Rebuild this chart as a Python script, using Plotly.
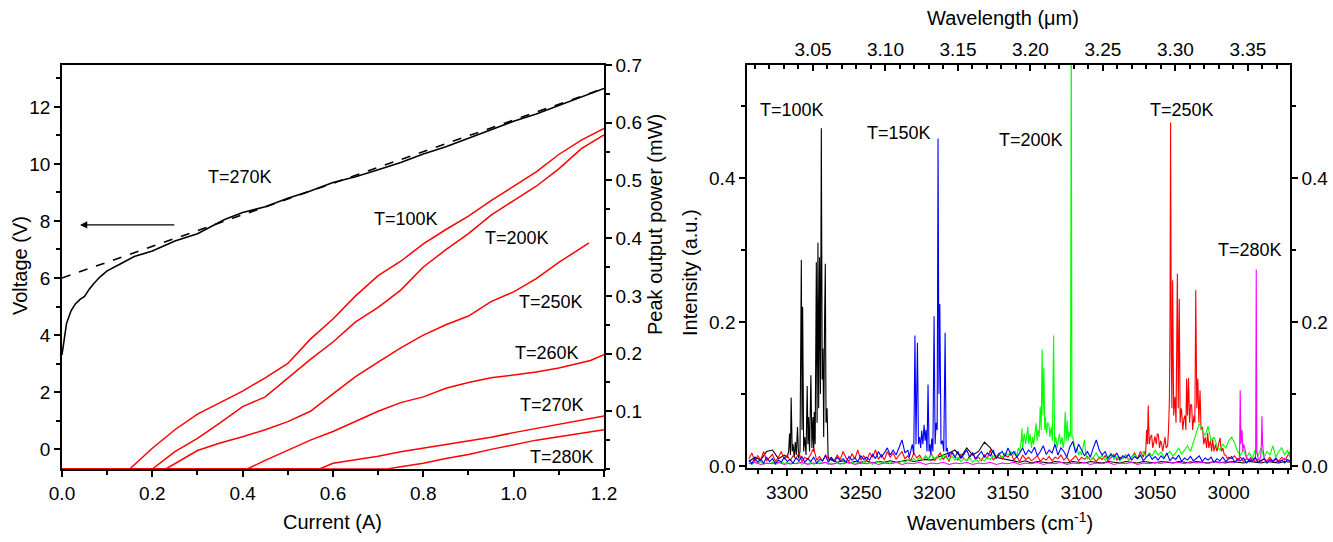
import plotly.graph_objects as go

# === Left panel: V-I and L-I data ===
current_v = [0.0, 0.005, 0.01, 0.02, 0.03, 0.04, 0.05, 0.06, 0.07, 0.085, 0.1, 0.13, 0.16, 0.2,
             0.25, 0.3, 0.33, 0.36, 0.4, 0.45, 0.5, 0.55, 0.6, 0.65, 0.7, 0.75, 0.8, 0.85, 0.9,
             0.95, 1.0, 1.05, 1.1, 1.15, 1.2]
voltage = [3.3, 3.8, 4.4, 4.85, 5.1, 5.25, 5.35, 5.6, 5.8, 6.05, 6.25, 6.5, 6.75, 6.95,
           7.3, 7.55, 7.8, 8.05, 8.3, 8.5, 8.8, 9.05, 9.35, 9.55, 9.8, 10.05, 10.35, 10.6, 10.9,
           11.2, 11.5, 11.75, 12.05, 12.35, 12.65]
fit_current = [0.0, 1.2]
fit_voltage = [6.0, 12.65]

i_100 = [0, 0.15, 0.2, 0.25, 0.3, 0.35, 0.4, 0.45, 0.5, 0.55, 0.6, 0.65, 0.7, 0.75, 0.8, 0.85,
         0.9, 0.95, 1.0, 1.05, 1.1, 1.15, 1.2]
p_100 = [0, 0, 0.036, 0.068, 0.095, 0.115, 0.135, 0.158, 0.183, 0.225, 0.26, 0.30, 0.335, 0.36,
         0.39, 0.415, 0.438, 0.465, 0.49, 0.515, 0.545, 0.57, 0.59]
i_200 = [0, 0.2, 0.25, 0.3, 0.35, 0.4, 0.45, 0.5, 0.55, 0.6, 0.65, 0.7, 0.75, 0.8, 0.85, 0.9,
         0.95, 1.0, 1.05, 1.1, 1.15, 1.2]
p_200 = [0, 0, 0.03, 0.053, 0.08, 0.108, 0.125, 0.158, 0.19, 0.22, 0.255, 0.28, 0.31, 0.35,
         0.38, 0.408, 0.44, 0.465, 0.49, 0.52, 0.555, 0.579]
i_250 = [0, 0.23, 0.3, 0.35, 0.4, 0.45, 0.5, 0.55, 0.6, 0.65, 0.7, 0.75, 0.8, 0.85, 0.9, 0.95,
         1.0, 1.05, 1.1, 1.167]
p_250 = [0, 0, 0.032, 0.045, 0.056, 0.068, 0.082, 0.1, 0.13, 0.16, 0.185, 0.21, 0.232, 0.25,
         0.265, 0.29, 0.307, 0.33, 0.358, 0.392]
i_260 = [0, 0.41, 0.45, 0.5, 0.55, 0.6, 0.65, 0.7, 0.75, 0.8, 0.85, 0.9, 0.95, 1.0, 1.05, 1.1,
         1.15, 1.17, 1.2]
p_260 = [0, 0, 0.015, 0.032, 0.05, 0.065, 0.082, 0.1, 0.115, 0.125, 0.14, 0.15, 0.158, 0.163,
         0.168, 0.175, 0.185, 0.188, 0.198]
i_270 = [0, 0.57, 0.6, 0.65, 0.7, 0.75, 0.8, 0.85, 0.9, 0.95, 1.0, 1.05, 1.1, 1.15, 1.2]
p_270 = [0, 0, 0.01, 0.016, 0.022, 0.03, 0.036, 0.042, 0.048, 0.055, 0.063, 0.07, 0.077, 0.085,
         0.092]
i_280 = [0, 0.72, 0.75, 0.8, 0.85, 0.9, 0.95, 1.0, 1.05, 1.1, 1.15, 1.2]
p_280 = [0, 0, 0.004, 0.01, 0.018, 0.025, 0.034, 0.042, 0.05, 0.056, 0.062, 0.068]

# === Right panel: spectra ===
# wavenumber sampling grids for the noise floor (cm-1)
wn_grid4 = list(range(3326, 2957, -4))
wn_grid2 = list(range(3326, 2957, -2))

# noise floors on wn_grid4
noise_100 = [0.006, 0.012, 0.008, 0.020, 0.022, 0.010, 0.015, 0.010, 0.012, 0.010,
             0.010, 0.012, 0.010, 0.010, 0.008, 0.005, 0.007, 0.004, 0.006, 0.005,
             0.007, 0.004, 0.006, 0.005, 0.007, 0.005, 0.006, 0.008, 0.006, 0.007,
             0.009, 0.008, 0.012, 0.015, 0.018, 0.022, 0.012, 0.025, 0.015, 0.020,
             0.033, 0.025, 0.012, 0.010, 0.008, 0.006, 0.005, 0.007, 0.004, 0.006,
             0.005, 0.004, 0.006, 0.005, 0.004, 0.006, 0.005, 0.004, 0.006, 0.005,
             0.004, 0.006, 0.005, 0.004, 0.006, 0.005, 0.004, 0.006, 0.005, 0.004,
             0.006, 0.005, 0.004, 0.006, 0.005, 0.004, 0.006, 0.005, 0.004, 0.006,
             0.005, 0.004, 0.006, 0.005, 0.004, 0.006, 0.005, 0.004, 0.006, 0.005,
             0.004, 0.006, 0.005]
noise_280 = [0.003, 0.005, 0.002, 0.004, 0.003, 0.005, 0.002, 0.004, 0.003, 0.005,
             0.002, 0.004, 0.003, 0.005, 0.002, 0.004, 0.003, 0.005, 0.002, 0.004,
             0.003, 0.005, 0.002, 0.004, 0.003, 0.005, 0.002, 0.004, 0.003, 0.005,
             0.002, 0.004, 0.003, 0.005, 0.002, 0.004, 0.003, 0.005, 0.002, 0.004,
             0.003, 0.005, 0.002, 0.004, 0.003, 0.005, 0.002, 0.004, 0.003, 0.005,
             0.002, 0.004, 0.003, 0.005, 0.002, 0.004, 0.003, 0.005, 0.002, 0.004,
             0.003, 0.005, 0.002, 0.004, 0.003, 0.005, 0.002, 0.004, 0.003, 0.005,
             0.003, 0.006, 0.004, 0.005, 0.003, 0.006, 0.004, 0.005, 0.003, 0.006,
             0.004, 0.006, 0.005, 0.008, 0.010, 0.010, 0.010, 0.010, 0.010, 0.008,
             0.005, 0.010, 0.006]

# noise floors on wn_grid2
noise_250 = [0.010, 0.018, 0.006, 0.014, 0.008, 0.020, 0.007, 0.012, 0.016, 0.006,
             0.012, 0.020, 0.009, 0.015, 0.007, 0.014, 0.010, 0.018, 0.006, 0.012,
             0.009, 0.016, 0.025, 0.008, 0.013, 0.006, 0.015, 0.010, 0.012, 0.007,
             0.015, 0.009, 0.020, 0.011, 0.006, 0.017, 0.010, 0.022, 0.008, 0.014,
             0.007, 0.018, 0.012, 0.022, 0.009, 0.016, 0.008, 0.020, 0.012, 0.018,
             0.009, 0.015, 0.020, 0.010, 0.014, 0.007, 0.018, 0.011, 0.015, 0.008,
             0.013, 0.010, 0.017, 0.007, 0.012, 0.018, 0.009, 0.014, 0.006, 0.020,
             0.012, 0.008, 0.016, 0.010, 0.007, 0.014, 0.018, 0.009, 0.012, 0.007,
             0.015, 0.010, 0.022, 0.008, 0.013, 0.018, 0.009, 0.015, 0.012, 0.018,
             0.008, 0.013, 0.006, 0.015, 0.009, 0.012, 0.007, 0.010, 0.014, 0.006,
             0.011, 0.008, 0.013, 0.007, 0.012, 0.010, 0.015, 0.008, 0.012, 0.006,
             0.010, 0.014, 0.007, 0.012, 0.009, 0.013, 0.008, 0.011, 0.006, 0.012,
             0.009, 0.014, 0.007, 0.011, 0.016, 0.008, 0.012, 0.010, 0.015, 0.008,
             0.012, 0.018, 0.010, 0.020, 0.030, 0.040, 0.035, 0.030, 0.040, 0.045,
             0.040, 0.035, 0.050, 0.080, 0.060, 0.070, 0.080, 0.060, 0.050, 0.070,
             0.060, 0.080, 0.050, 0.060, 0.040, 0.050, 0.030, 0.040, 0.030, 0.035,
             0.030, 0.020, 0.015, 0.012, 0.010, 0.014, 0.008, 0.012, 0.006, 0.010,
             0.007, 0.011, 0.005, 0.009, 0.006, 0.010, 0.007, 0.012, 0.006, 0.009,
             0.007, 0.012, 0.008, 0.015, 0.020]
noise_200 = [0.004, 0.002, 0.005, 0.003, 0.006, 0.002, 0.004, 0.003, 0.005, 0.002,
             0.004, 0.006, 0.003, 0.005, 0.002, 0.004, 0.003, 0.006, 0.002, 0.004,
             0.003, 0.005, 0.002, 0.004, 0.006, 0.003, 0.005, 0.002, 0.004, 0.003,
             0.005, 0.002, 0.004, 0.006, 0.003, 0.005, 0.002, 0.004, 0.003, 0.006,
             0.003, 0.005, 0.002, 0.004, 0.006, 0.003, 0.005, 0.004, 0.006, 0.003,
             0.005, 0.004, 0.007, 0.005, 0.008, 0.006, 0.010, 0.007, 0.012, 0.008,
             0.014, 0.009, 0.016, 0.010, 0.013, 0.008, 0.015, 0.011, 0.009, 0.013,
             0.008, 0.012, 0.006, 0.010, 0.007, 0.011, 0.005, 0.009, 0.006, 0.010,
             0.007, 0.012, 0.009, 0.014, 0.010, 0.016, 0.012, 0.018, 0.015, 0.020,
             0.020, 0.030, 0.040, 0.050, 0.040, 0.050, 0.060, 0.050, 0.060, 0.050,
             0.060, 0.050, 0.050, 0.040, 0.050, 0.040, 0.050, 0.040, 0.050, 0.040,
             0.040, 0.030, 0.030, 0.020, 0.025, 0.015, 0.030, 0.012, 0.018, 0.010,
             0.015, 0.008, 0.012, 0.018, 0.009, 0.013, 0.007, 0.011, 0.015, 0.008,
             0.012, 0.016, 0.010, 0.014, 0.020, 0.012, 0.018, 0.014, 0.022, 0.015,
             0.019, 0.012, 0.016, 0.020, 0.014, 0.018, 0.025, 0.016, 0.022, 0.028,
             0.020, 0.032, 0.045, 0.059, 0.050, 0.042, 0.055, 0.035, 0.040, 0.028,
             0.022, 0.030, 0.025, 0.035, 0.040, 0.032, 0.020, 0.015, 0.022, 0.012,
             0.018, 0.010, 0.022, 0.014, 0.025, 0.012, 0.020, 0.015, 0.028, 0.012,
             0.020, 0.025, 0.015, 0.022, 0.010]
noise_150 = [0.008, 0.003, 0.011, 0.005, 0.009, 0.004, 0.012, 0.006, 0.010, 0.003,
             0.008, 0.005, 0.012, 0.006, 0.009, 0.004, 0.011, 0.007, 0.013, 0.005,
             0.010, 0.006, 0.012, 0.004, 0.009, 0.007, 0.014, 0.005, 0.011, 0.006,
             0.012, 0.007, 0.010, 0.005, 0.013, 0.008, 0.011, 0.006, 0.014, 0.009,
             0.012, 0.008, 0.016, 0.010, 0.020, 0.012, 0.018, 0.025, 0.015, 0.022,
             0.015, 0.025, 0.036, 0.018, 0.022, 0.015, 0.030, 0.020, 0.040, 0.030,
             0.040, 0.030, 0.050, 0.030, 0.040, 0.030, 0.020, 0.030, 0.020, 0.018,
             0.012, 0.020, 0.010, 0.016, 0.022, 0.012, 0.018, 0.010, 0.015, 0.020,
             0.012, 0.018, 0.014, 0.022, 0.010, 0.016, 0.020, 0.013, 0.025, 0.015,
             0.020, 0.012, 0.018, 0.025, 0.015, 0.022, 0.018, 0.026, 0.014, 0.020,
             0.028, 0.016, 0.022, 0.018, 0.030, 0.015, 0.025, 0.020, 0.012, 0.026,
             0.034, 0.018, 0.030, 0.022, 0.014, 0.020, 0.012, 0.025, 0.036, 0.022,
             0.015, 0.020, 0.010, 0.016, 0.012, 0.018, 0.009, 0.014, 0.011, 0.016,
             0.008, 0.013, 0.010, 0.015, 0.007, 0.012, 0.016, 0.009, 0.013, 0.008,
             0.014, 0.010, 0.018, 0.007, 0.012, 0.009, 0.015, 0.006, 0.011, 0.008,
             0.013, 0.007, 0.010, 0.014, 0.006, 0.011, 0.008, 0.012, 0.005, 0.010,
             0.007, 0.012, 0.006, 0.009, 0.013, 0.005, 0.010, 0.007, 0.011, 0.004,
             0.009, 0.006, 0.012, 0.005, 0.008, 0.010, 0.004, 0.009, 0.006, 0.011,
             0.005, 0.008, 0.004, 0.009, 0.006]

# lasing lines (wavenumber, intensity)
pk_wn_100 = [3300, 3299, 3298.4, 3297.8, 3297.3, 3296.6, 3296, 3295.2, 3294.5, 3293.8, 3293,
             3292.2, 3291.3, 3290.4, 3289.9, 3289.5, 3288.8, 3288, 3287.2, 3286.4, 3285.9,
             3285.5, 3284.8, 3283.9, 3283.2, 3282.5, 3282, 3281.6, 3281, 3280.2, 3279.7,
             3279.1, 3278.6, 3278, 3277.4, 3276.8, 3276.2, 3275.7, 3275.2, 3274.6, 3274.1,
             3273.6, 3272.9, 3272.2, 3271.5, 3270.5]
pk_int_100 = [0.012, 0.02, 0.045, 0.015, 0.095, 0.02, 0.03, 0.012, 0.033, 0.015, 0.054,
              0.01, 0.02, 0.286, 0.05, 0.221, 0.02, 0.04, 0.015, 0.111, 0.03,
              0.068, 0.02, 0.126, 0.025, 0.068, 0.02, 0.075, 0.03, 0.283, 0.06,
              0.31, 0.08, 0.29, 0.1, 0.469, 0.12, 0.163, 0.04, 0.2, 0.281,
              0.06, 0.08, 0.013, 0.008, 0.01]
pk_wn_150 = [3217, 3216, 3215, 3214, 3213.2, 3212.5, 3211.5, 3210.8, 3210, 3209.3, 3208.6,
             3207.8, 3207, 3206.3, 3205.7, 3205, 3204.3, 3203.6, 3203, 3202.4, 3201.8, 3201,
             3200.2, 3199.5, 3198.8, 3198.1, 3197.5, 3196.9, 3196.3, 3195.5, 3194.5, 3193.6,
             3192.7, 3192, 3191.3, 3190.3, 3189.3]
pk_int_150 = [0.012, 0.02, 0.03, 0.015, 0.181, 0.03, 0.171, 0.03, 0.04, 0.025, 0.049,
              0.03, 0.057, 0.035, 0.05, 0.02, 0.113, 0.02, 0.03, 0.015, 0.038, 0.02,
              0.208, 0.03, 0.06, 0.05, 0.455, 0.1, 0.225, 0.03, 0.035, 0.02,
              0.185, 0.02, 0.025, 0.012, 0.018]
pk_wn_200 = [3146, 3145, 3144, 3143, 3142, 3141, 3140.5, 3140, 3139, 3138, 3137.2, 3136.5,
             3135.8, 3135, 3134, 3133.2, 3132.5, 3131.6, 3130.9, 3130.2, 3129.5, 3128.8,
             3128.1, 3127.4, 3126.8, 3126.2, 3125.6, 3125, 3124.5, 3123.8, 3123, 3122.2,
             3121.5, 3120.6, 3119.8, 3119, 3118.3, 3117.5, 3116.6, 3115.8, 3115, 3114.2,
             3113.3, 3112.5, 3111.8, 3111.1, 3110.4, 3109.7, 3109.1, 3108.6, 3108, 3107.5,
             3107, 3106.5, 3106, 3105, 3104, 3103, 3102, 3101, 3100, 3099, 3098, 3097,
             3096, 3095, 3094]
pk_int_200 = [0.015, 0.02, 0.012, 0.025, 0.02, 0.035, 0.052, 0.025, 0.045, 0.03, 0.04, 0.054,
              0.03, 0.045, 0.025, 0.04, 0.03, 0.045, 0.059, 0.035, 0.05, 0.04,
              0.082, 0.05, 0.162, 0.07, 0.136, 0.05, 0.068, 0.045, 0.06, 0.057,
              0.04, 0.054, 0.035, 0.181, 0.03, 0.04, 0.025, 0.035, 0.045, 0.03,
              0.04, 0.025, 0.035, 0.075, 0.035, 0.063, 0.035, 0.048, 0.04, 0.045,
              0.62, 0.04, 0.04, 0.03, 0.02, 0.025, 0.015, 0.02, 0.015, 0.025, 0.036, 0.015,
              0.01, 0.012, 0.008]
pk_wn_250 = [3058, 3057, 3056.5, 3055.8, 3055.2, 3054.7, 3054, 3053.2, 3052.4, 3051.6, 3050.8,
             3050.1, 3049.2, 3048.5, 3047.8, 3047, 3046.2, 3045.6, 3044.8, 3044, 3043.3,
             3042.5, 3041.5, 3040.9, 3040.3, 3039.9, 3039.5, 3039, 3038.6, 3038.1, 3037.4,
             3036.5, 3035.8, 3034.9, 3034.3, 3033.6, 3033, 3032.4, 3032, 3031.2, 3030.5,
             3029.7, 3029.1, 3028.6, 3028, 3027.3, 3026.6, 3025.9, 3025.2, 3024.5, 3023.6,
             3023, 3022.4, 3021.7, 3021, 3020.3, 3019.5, 3018.8, 3017.8, 3017, 3016, 3015,
             3014.3, 3013.5, 3012.5, 3011.6, 3010.9, 3010, 3009, 3008, 3007, 3005.9, 3005,
             3004, 3003, 3002, 3001, 3000]
pk_int_250 = [0.012, 0.02, 0.015, 0.05, 0.03, 0.084, 0.03, 0.04, 0.043, 0.025, 0.035,
              0.041, 0.03, 0.045, 0.043, 0.025, 0.035, 0.031, 0.02, 0.035, 0.04,
              0.025, 0.028, 0.05, 0.091, 0.2, 0.477, 0.15, 0.08, 0.258, 0.07,
              0.096, 0.06, 0.267, 0.08, 0.232, 0.06, 0.08, 0.077, 0.05, 0.065,
              0.07, 0.05, 0.121, 0.07, 0.122, 0.06, 0.085, 0.085, 0.05, 0.07,
              0.06, 0.244, 0.08, 0.121, 0.06, 0.105, 0.05, 0.054, 0.03, 0.04, 0.025,
              0.046, 0.025, 0.035, 0.02, 0.037, 0.02, 0.03, 0.02, 0.03, 0.039, 0.02,
              0.025, 0.015, 0.015, 0.01, 0.012]
pk_wn_280 = [2995, 2994, 2993, 2992.6, 2992.2, 2991.7, 2991, 2990.4, 2989.8, 2988.8, 2988,
             2987, 2986, 2985, 2984, 2983, 2982, 2981.7, 2981.3, 2980.9, 2980, 2979, 2978.2,
             2977.8, 2977.4, 2977, 2976, 2975, 2974]
pk_int_280 = [0.005, 0.008, 0.006, 0.02, 0.105, 0.03, 0.05, 0.02, 0.03, 0.022, 0.012,
              0.01, 0.008, 0.012, 0.006, 0.01, 0.008, 0.02, 0.273, 0.02, 0.01, 0.008, 0.015,
              0.03, 0.069, 0.03, 0.012, 0.008, 0.006]


def build_spectrum(grid, noise, pk_wn, pk_int):
    # noise floor outside the lasing window + the lasing lines inside it
    lo, hi = min(pk_wn), max(pk_wn)
    pts = [(w, v) for w, v in zip(grid, noise) if not (lo <= w <= hi)]
    pts += list(zip(pk_wn, pk_int))
    pts.sort(key=lambda p: -p[0])
    return [p[0] for p in pts], [p[1] for p in pts]


FONT = "Liberation Sans, Arial, sans-serif"
fig = go.Figure()

# === Left panel traces ===
fig.add_trace(go.Scatter(x=fit_current, y=fit_voltage, mode="lines",
                         line=dict(color="black", width=1.6, dash="dash"), xaxis="x", yaxis="y"))
fig.add_trace(go.Scatter(x=current_v, y=voltage, mode="lines",
                         line=dict(color="black", width=1.6), xaxis="x", yaxis="y"))
for cur, pw in [(i_100, p_100), (i_200, p_200), (i_250, p_250),
                (i_260, p_260), (i_270, p_270), (i_280, p_280)]:
    fig.add_trace(go.Scatter(x=cur, y=pw, mode="lines",
                             line=dict(color="#ff0000", width=1.5), xaxis="x", yaxis="y2"))

# === Right panel traces ===
spectra = [
    (wn_grid4, noise_100, pk_wn_100, pk_int_100, "#000000"),
    (wn_grid2, noise_250, pk_wn_250, pk_int_250, "#ff0000"),
    (wn_grid2, noise_200, pk_wn_200, pk_int_200, "#00ff00"),
    (wn_grid4, noise_280, pk_wn_280, pk_int_280, "#ff00ff"),
    (wn_grid2, noise_150, pk_wn_150, pk_int_150, "#0000ff"),
]
for grid, noise, pw, pi, col in spectra:
    wx, wy = build_spectrum(grid, noise, pw, pi)
    fig.add_trace(go.Scatter(x=wx, y=wy, mode="lines", line=dict(color=col, width=1.1),
                             xaxis="x3", yaxis="y3"))

# empty traces so the top / right mirror axes are drawn
fig.add_trace(go.Scatter(x=[None], y=[None], xaxis="x4", yaxis="y3", hoverinfo="skip"))
fig.add_trace(go.Scatter(x=[None], y=[None], xaxis="x3", yaxis="y4", hoverinfo="skip"))

minor_out = dict(ticks="outside", ticklen=4, tickwidth=1.5, tickcolor="black")
ax_common = dict(showline=True, linecolor="black", linewidth=1.5, ticks="outside",
                 ticklen=6, tickwidth=1.5, tickcolor="black", showgrid=False, zeroline=False,
                 automargin=False, tickfont=dict(size=19, color="black"))

fig.update_layout(
    width=1333, height=542,
    margin=dict(l=0, r=0, t=0, b=0),
    paper_bgcolor="white", plot_bgcolor="white",
    font=dict(family=FONT, color="black"),
    showlegend=False,
    xaxis=dict(ax_common, domain=[0.0465, 0.4531], range=[0, 1.2], dtick=0.2, tickformat=".1f",
               mirror=True, anchor="y", minor=dict(minor_out, dtick=0.1)),
    yaxis=dict(ax_common, domain=[0.1347, 0.880], range=[-0.7, 13.47], dtick=2, anchor="x",
               minor=dict(minor_out, dtick=1)),
    yaxis2=dict(ax_common, overlaying="y", side="right", anchor="x", range=[0, 0.7],
                tickvals=[0.1, 0.2, 0.3, 0.4, 0.5, 0.6, 0.7], tickformat=".1f",
                minor=dict(minor_out, dtick=0.05)),
    xaxis3=dict(ax_common, domain=[0.5604, 0.9677], range=[3327.3, 2958.4], dtick=50,
                anchor="y3", minor=dict(minor_out, dtick=10)),
    xaxis4=dict(ax_common, overlaying="x3", side="top", anchor="y3", range=[3.0045, 3.379],
                dtick=0.05, tickformat=".2f", ticks="inside",
                minor=dict(dtick=0.01, ticks="inside", ticklen=4, tickwidth=1.5, tickcolor="black")),
    yaxis3=dict(ax_common, domain=[0.1365, 0.880], range=[-0.003, 0.557], dtick=0.2,
                tickformat=".1f", anchor="x3", minor=dict(minor_out, dtick=0.1)),
    yaxis4=dict(ax_common, overlaying="y3", side="right", anchor="x3", range=[-0.003, 0.557],
                dtick=0.2, tickformat=".1f", minor=dict(minor_out, dtick=0.1)),
)

# === Axis titles (placed in paper coordinates) ===
ttl = dict(showarrow=False, xref="paper", yref="paper", xanchor="center", yanchor="middle",
           font=dict(size=20, color="black", family=FONT))
fig.add_annotation(text="Voltage (V)", x=0.015, y=0.511, textangle=-90, **ttl)
fig.add_annotation(text="Current (A)", x=0.2498, y=0.037, **ttl)
fig.add_annotation(text="Peak output power (mW)", x=0.4914, y=0.585, textangle=-90, **ttl)
fig.add_annotation(text="Intensity (a.u.)", x=0.5176, y=0.498, textangle=-90, **ttl)
fig.add_annotation(text="Wavenumbers (cm<sup>-1</sup>)", x=0.7502, y=0.037, **ttl)
fig.add_annotation(text="Wavelength (μm)", x=0.7524, y=0.967, **ttl)

# === Temperature labels ===
lab = dict(showarrow=False, font=dict(size=18, color="black", family=FONT))
left_labels = [("T=100K", 0.762, 0.433), ("T=200K", 1.007, 0.400), ("T=250K", 1.083, 0.289),
               ("T=260K", 1.074, 0.201), ("T=270K", 1.085, 0.111), ("T=280K", 1.107, 0.021)]
for txt, xx, yy in left_labels:
    fig.add_annotation(text=txt, x=xx, y=yy, xref="x", yref="y2", **lab)
fig.add_annotation(text="T=270K", x=0.394, y=9.54, xref="x", yref="y", **lab)
fig.add_annotation(x=0.04, y=7.86, ax=0.252, ay=7.86, xref="x", yref="y", axref="x", ayref="y",
                   text="", showarrow=True, arrowhead=2, arrowsize=1.2, arrowwidth=1.2,
                   arrowcolor="black")

right_labels = [("T=100K", 3296.6, 0.494), ("T=150K", 3224.3, 0.462), ("T=200K", 3134.3, 0.453),
                ("T=250K", 3032.0, 0.494), ("T=280K", 2985.6, 0.300)]
for txt, xx, yy in right_labels:
    fig.add_annotation(text=txt, x=xx, y=yy, xref="x3", yref="y3", **lab)

# drop the page's default body margin so the figure sits at the window's corner
fig.write_html("out.html", config={"displayModeBar": False},
               post_script="document.body.style.margin='0';document.body.style.overflow='hidden';")
